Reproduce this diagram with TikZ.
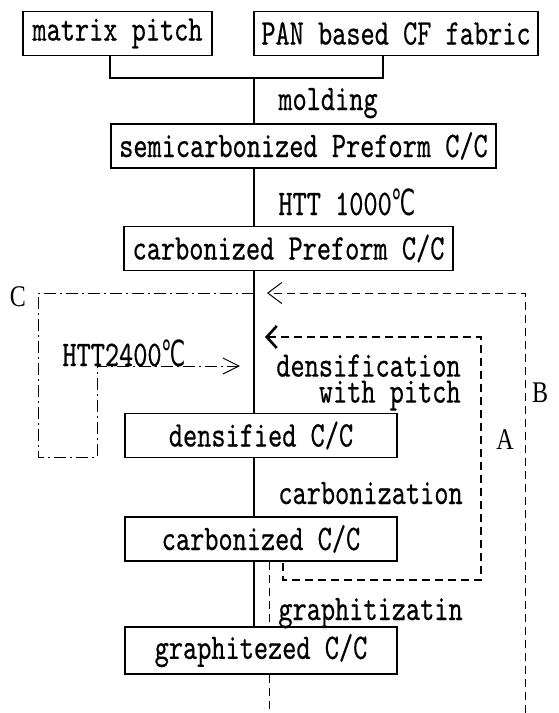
\documentclass[tikz,border=0pt]{standalone}
\usepackage{fontspec}
\usetikzlibrary{arrows.meta}
\newfontfamily\flowfont{lmmono10-regular.otf}[FakeStretch=0.75, FakeBold=0.4]
\newfontfamily\tagfont{Liberation Serif}[FakeStretch=0.8]
\newfontfamily\degfont{DejaVu Sans}[FakeStretch=0.6]
\newcommand{\flowsize}{\flowfont\fontsize{18pt}{13pt}\selectfont}
\newcommand{\htdeg}{{\degfont ℃}}

\begin{document}
\begin{tikzpicture}[x=0.5pt, y=-0.5pt,
    stagebox/.style={draw, line width=0.8pt, fill=white, inner xsep=2pt,
                     minimum height=22pt, minimum width=#1, font=\flowsize},
    steplabel/.style={inner sep=0pt, font=\flowsize},
    looptag/.style={inner sep=0pt, font=\tagfont\fontsize{15pt}{18pt}\selectfont},
    mainline/.style={line width=1.2pt},
    thinline/.style={line width=0.7pt},
    loopa/.style={line width=1.3pt, dash pattern=on 4pt off 2.5pt,
                  -{Straight Barb[length=5pt, width=11pt]}},
    loopb/.style={line width=0.5pt, dash pattern=on 4pt off 2.5pt},
    loopc/.style={line width=0.5pt, dash pattern=on 6pt off 2pt on 1pt off 2pt,
                  -{Straight Barb[length=8pt, width=8pt]}}]
\useasboundingbox (0,0) rectangle (558,713);
% Top: raw materials
\node[stagebox=94.5pt] (mp) at (117.5,33.5) {matrix pitch};
\node[stagebox=142pt] (pan) at (396,33.5) {PAN based CF fabric};
\coordinate (join) at (254,78);
\coordinate (mpfoot) at (110,0);
\coordinate (panfoot) at (383,0);
\draw[mainline] (mp.south -| mpfoot) |- (join);
\draw[mainline] (pan.south -| panfoot) |- (join);
% Main flow
\node[stagebox=192.5pt] (semi) at (303.5,146) {semicarbonized Preform C/C};
\node[stagebox=164.5pt] (cpre) at (288.5,248.5) {carbonized Preform C/C};
\node[stagebox=136pt] (dens) at (261,435.5) {densified C/C};
\node[stagebox=136pt] (ccc) at (261,539) {carbonized C/C};
\node[stagebox=136pt] (gcc) at (261,650.5) {graphitezed C/C};
\draw[mainline] (join) -- (semi.north -| join);
\draw[mainline] (semi.south -| join) -- (cpre.north -| join);
\draw[mainline] (cpre.south -| join) -- (dens.north -| join);
\draw[mainline] (dens.south -| join) -- (ccc.north -| join);
\draw[thinline] (ccc.south -| join) -- (gcc.north -| join);
\node[steplabel, anchor=base west] (lmold) at (278,110) {molding};
\node[steplabel, anchor=base west] (lhtt) at (278,215) {HTT 1000\htdeg};
\node[steplabel, anchor=north east, align=right] (ldens) at (461,354) {densification\\with pitch};
\node[steplabel, anchor=base west] (lcarb) at (278,504) {carbonization};
\node[steplabel, anchor=base west] (lgraph) at (278,620) {graphitizatin};
% Loop A
\coordinate (astart) at (283,563);
\coordinate (acorner) at (481,580);
\coordinate (atip) at (265,337);
\draw[loopa] (astart) |- (acorner) |- (atip);
\node[looptag] (la) at (505,440) {A};
% Loop B
\coordinate (bbot) at (525,713);
\coordinate (btip) at (267,293);
\coordinate (bleg) at (269,713);
\draw[loopb, -{Straight Barb[length=7pt, width=10.5pt]}] (bbot) |- (btip);
\draw[loopb] (ccc.south -| bleg) -- (gcc.north -| bleg);
\draw[loopb] (gcc.south -| bleg) -- (bleg);
\node[looptag] (lb) at (540,393) {B};
% Loop C
\coordinate (cstart) at (254,293);
\coordinate (couter) at (38,457);
\coordinate (cinner) at (97,457);
\coordinate (ctip) at (240,366);
\draw[loopc] (cstart) -| (couter) -- (cinner) |- (ctip);
\node[looptag] (lc) at (18,297) {C};
\node[steplabel, anchor=base west] (lhtt2) at (62,366) {HTT2400\htdeg};
\end{tikzpicture}
\end{document}
